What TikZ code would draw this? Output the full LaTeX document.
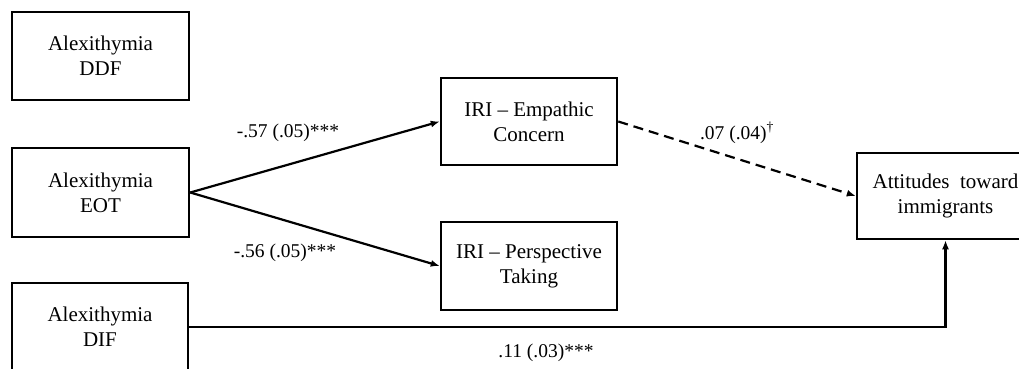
\documentclass[tikz,border=0pt]{standalone}
\usepackage{fontspec}
\setmainfont{Liberation Serif}
\usetikzlibrary{arrows.meta}
\begin{document}
\begin{tikzpicture}[x=1pt,y=-1pt,
  box/.style={draw,line width=2.5pt,align=center,inner sep=0pt,
    font=\fontsize{21}{25}\selectfont},
  lbl/.style={font=\fontsize{19.5}{22}\selectfont,inner sep=0pt},
  conn/.style={line width=2.2pt,-{Latex[length=9pt,width=7pt]}},
  dconn/.style={conn,dash pattern=on 10pt off 6pt}]
\useasboundingbox (0,0) rectangle (1019,369);
\clip (0,0) rectangle (1019,369);
\fill[white] (0,0) rectangle (1019,369);
\node[box,minimum width=177pt,minimum height=88pt] (ddf) at (100.5,56) {Alexithymia\\DDF};
\node[box,minimum width=177pt,minimum height=89pt] (eot) at (100.5,192.5) {Alexithymia\\EOT};
\node[box,minimum width=176pt,minimum height=88pt] (dif) at (100,327) {Alexithymia\\DIF};
\node[box,minimum width=176pt,minimum height=87pt] (ec) at (529,121.5) {IRI -- Empathic\\Concern};
\node[box,minimum width=176pt,minimum height=88pt] (pt) at (529,266) {IRI -- Perspective\\Taking};
\node[box,minimum width=177pt,minimum height=86pt] (att) at (945.5,196) {Attitudes\ \ toward\\immigrants};
\draw[conn] (eot.east) -- (ec.west);
\draw[conn] (eot.east) -- (pt.west);
\draw[dconn] (ec.east) -- (att.west);
\draw[conn] (dif.east) -| (att.south);
\node[lbl] (l1) at (288,133) {-.57 (.05)***};
\node[lbl] (l2) at (285,253) {-.56 (.05)***};
\node[lbl] (l3) at (737,133) {.07 (.04)\textsuperscript{\textdagger}};
\node[lbl] (l4) at (546,353) {.11 (.03)***};
\end{tikzpicture}
\end{document}
